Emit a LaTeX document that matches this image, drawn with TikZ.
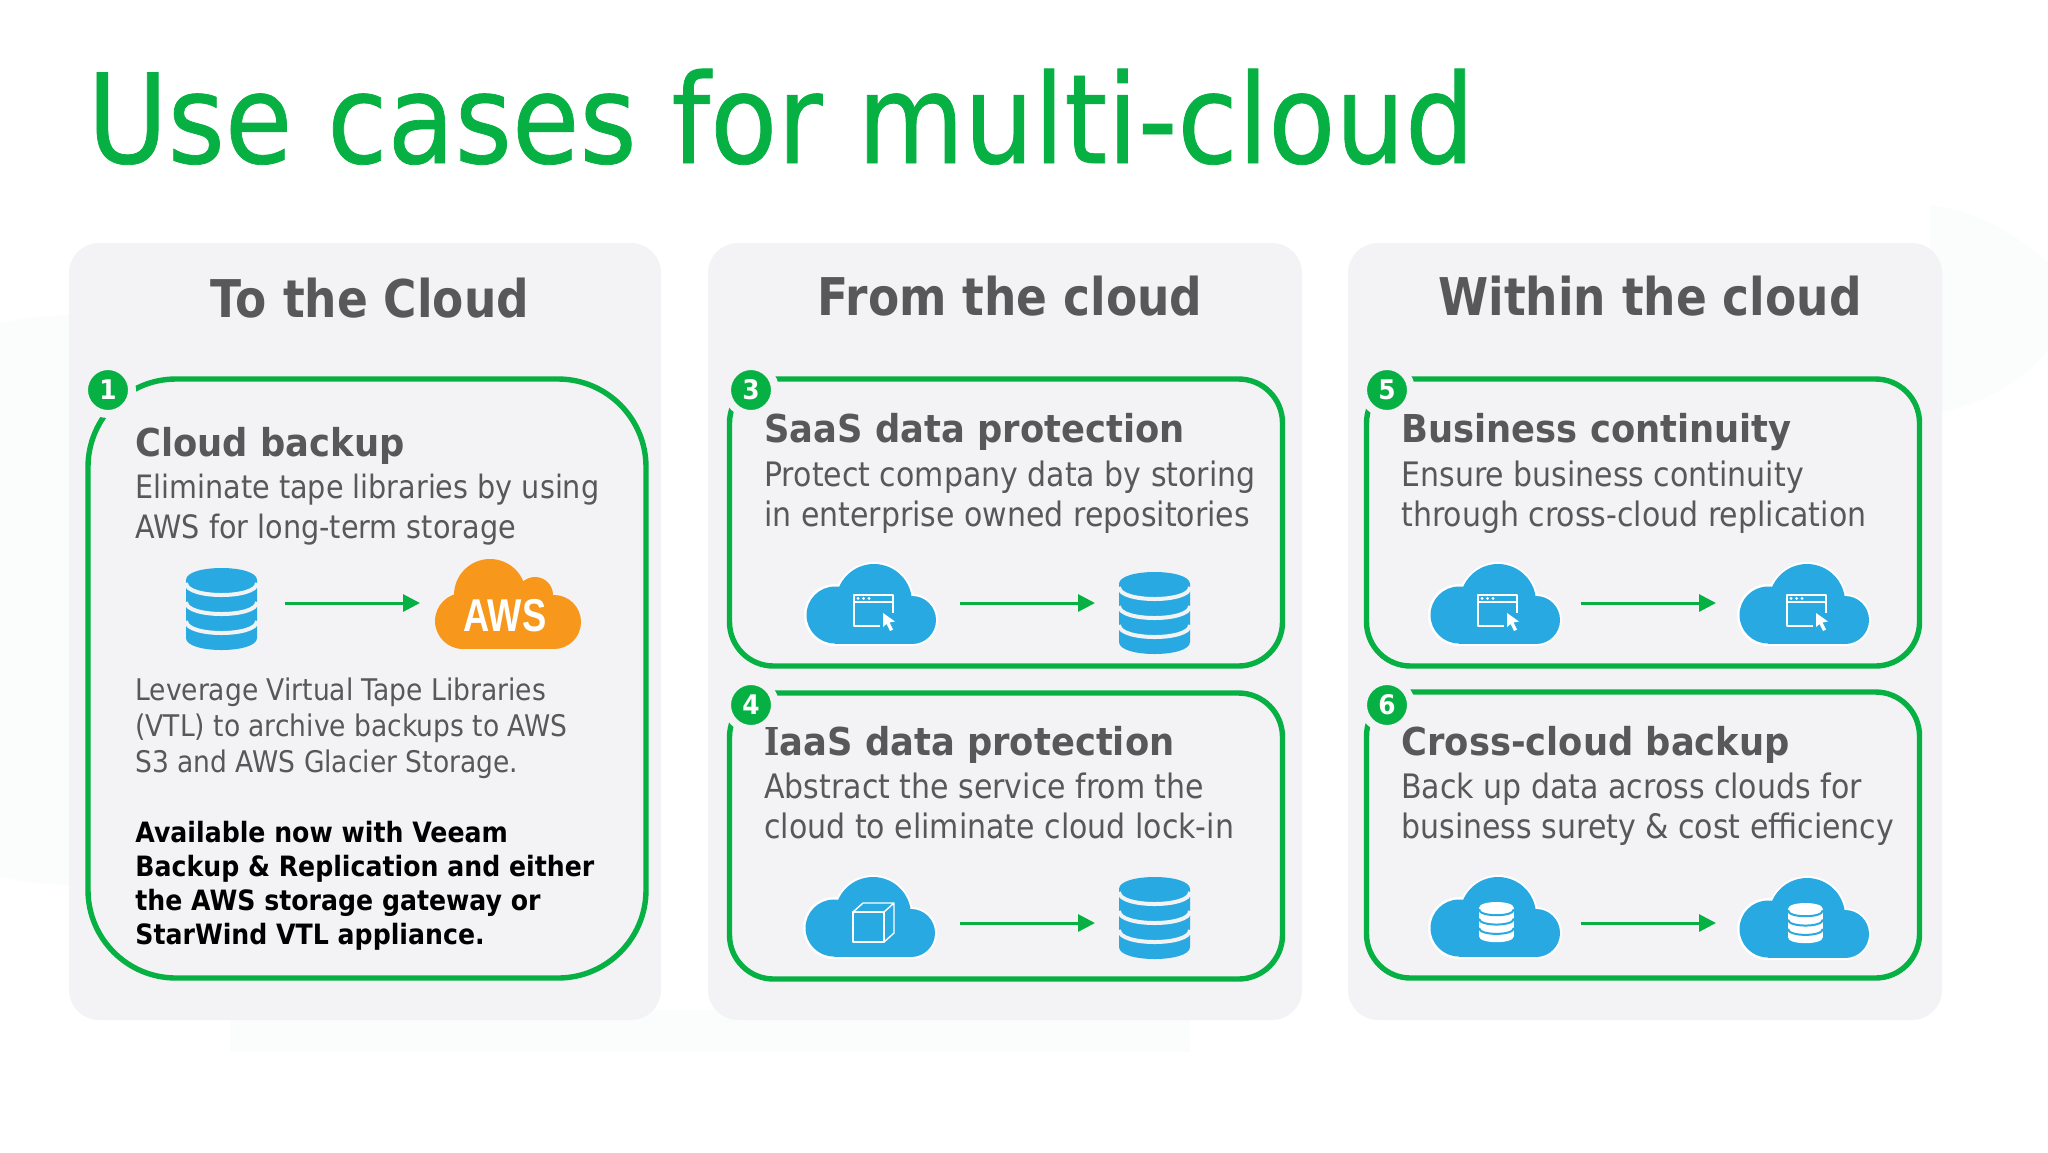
\documentclass[tikz,border=0pt]{standalone}
\usepackage{fontspec}
\usetikzlibrary{arrows.meta}
\setmainfont{DejaVu Sans}
\newfontfamily\regf{DejaVu Sans}[FakeStretch=0.89]
\newfontfamily\titlef{DejaVu Sans}[FakeStretch=0.885,FakeBold=0.6]
\newfontfamily\boldf{DejaVu Sans}[FakeStretch=0.92]
\newfontfamily\headf{DejaVu Sans}[FakeStretch=0.875]
\newfontfamily\notef{DejaVu Sans}[FakeStretch=0.9]
\newfontfamily\serifi{DejaVu Serif}[FakeStretch=0.85]
\newfontfamily\awsf{Liberation Sans}[FakeStretch=0.79]
\definecolor{vgreen}{HTML}{07B043}
\definecolor{vgrey}{HTML}{58585B}
\definecolor{vpanel}{HTML}{F3F3F5}
\definecolor{vblue}{HTML}{29A9E1}
\definecolor{vorange}{HTML}{F7981D}
\definecolor{vfaint}{HTML}{FBFDFC}
\tikzset{
  panel/.style={fill=vpanel,rounded corners=15pt,minimum width=296pt,minimum height=388.5pt,inner sep=0pt,outer sep=0pt},
  casebox/.style={draw=vgreen,line width=2.7pt,rounded corners=22pt,inner sep=0pt,outer sep=0pt},
  badge/.style={circle,fill=vgreen,draw=vpanel,line width=4pt,minimum size=24pt,inner sep=0pt,text=white,font=\boldf\bfseries\fontsize{13.5}{13.5}\selectfont},
  paneltitle/.style={anchor=base,inner sep=0pt,text=vgrey,font=\headf\bfseries\fontsize{26}{30}\selectfont},
  casetitle/.style={anchor=base west,inner sep=0pt,text=vgrey,font=\boldf\bfseries\fontsize{19.2}{22}\selectfont},
  casetext/.style={anchor=base west,inner sep=0pt,align=left,text=vgrey,font=\regf\fontsize{16.85}{20}\selectfont},
  firsttext/.style={anchor=base west,inner sep=0pt,align=left,text=vgrey,font=\regf\fontsize{16.1}{19.8}\selectfont},
  smalltext/.style={anchor=base west,inner sep=0pt,align=left,text=vgrey,font=\regf\fontsize{14.9}{17.8}\selectfont},
  boldnote/.style={anchor=base west,inner sep=0pt,align=left,text=black,font=\notef\bfseries\fontsize{14}{17}\selectfont},
  flow/.style={draw=vgreen,line width=1.5pt,-{Triangle[length=8.5pt,width=8.5pt]}},
  glyph/.style={draw=white,line width=1.3pt,fill=none}
}
\newcommand\cloudicon[2]{%
 \begin{scope}[shift={(#1,#2)}]
  \fill[white] (29,51) circle (31) (106,56) circle (26) (68,38) circle (40);
  \fill[white] (29,40) rectangle (106,82);
  \fill[vblue] (29,51) circle (28.5) (106,56) circle (24) (68,38) circle (38);
  \fill[vblue] (29,40) rectangle (106,79.5);
 \end{scope}}
\newcommand\windowglyph[2]{%
 \begin{scope}[shift={(#1,#2)}]
  \draw[glyph,line join=round] (74,62)--(48,62)--(48,31)--(87,31)--(87,49);
  \draw[glyph,line width=1pt] (48,38)--(87,38);
  \fill[white] (52,34.4) circle (1.6) (57.5,34.4) circle (1.6) (63,34.4) circle (1.6);
  \fill[white] (77,49)--(77,63)--(80.5,60)--(84,67)--(87,65.5)--(83.5,58.5)--(89,57.5)--cycle;
 \end{scope}}
\newcommand\cubeglyph[2]{%
 \begin{scope}[shift={(#1,#2)}]
  \draw[glyph,line width=.7pt,line join=round] (48,35) rectangle (79,65);
  \draw[glyph,line width=.7pt,line join=round] (48,35)--(58,26)--(89,26)--(79,35) (89,26)--(89,56)--(79,65);
 \end{scope}}
% database: local box 71x82
\newcommand\dbglyph[6]{% x,y,scale,fill,stripe,stripe width
 \begin{scope}[shift={(#1,#2)},scale=#3]
  \fill[#4] (0,12)--(0,70) .. controls (0,86) and (71,86) .. (71,70) --(71,12) .. controls (71,-4) and (0,-4) .. (0,12) --cycle;
  \draw[#5,line width=#6] (0,15) .. controls (0,31) and (71,31) .. (71,15);
  \draw[#5,line width=#6] (0,34) .. controls (0,50) and (71,50) .. (71,34);
  \draw[#5,line width=#6] (0,53) .. controls (0,69) and (71,69) .. (71,53);
 \end{scope}}
\begin{document}
\begin{tikzpicture}[x=0.5pt,y=-0.5pt]
\useasboundingbox (0,0) rectangle (2048,1152);
\fill[white] (0,0) rectangle (2048,1152);
% faint background texture
\fill[vfaint] (70,600) circle (285);
\fill[vfaint] (230,1010) rectangle (1190,1052);
\fill[vfaint] (1930,205) .. controls (2000,215) and (2030,250) .. (2048,262) -- (2048,350) .. controls (2020,385) and (1980,405) .. (1930,415) -- cycle;
\node[anchor=base west,inner sep=0pt,text=vgreen,font=\titlef\fontsize{62}{70}\selectfont] (title) at (87,163) {Use cases for multi-cloud};
% panels
\node[panel] (p1) at (365,631.5) {};
\node[panel,minimum width=297pt] (p2) at (1005,631.5) {};
\node[panel,minimum width=297pt] (p3) at (1645,631.5) {};
\node[paneltitle] (t1) at (370,317) {To the Cloud};
\node[paneltitle] (t2) at (1010,315) {From the cloud};
\node[paneltitle] (t3) at (1650,315) {Within the cloud};
% case boxes
\node[casebox,rounded corners=44pt,minimum width=279pt,minimum height=299.5pt] (b1) at (367,678.5) {};
\node[casebox,minimum width=276.5pt,minimum height=143.5pt] (b3) at (1006,522.5) {};
\node[casebox,minimum width=276.5pt,minimum height=143pt] (b4) at (1006,836) {};
\node[casebox,minimum width=276.5pt,minimum height=143.5pt] (b5) at (1643,522.5) {};
\node[casebox,minimum width=276.5pt,minimum height=143pt] (b6) at (1643,835) {};
\node[badge] (n1) at (108,390) {1};
\node[badge] (n3) at (751,390) {3};
\node[badge] (n4) at (751,705) {4};
\node[badge] (n5) at (1387,390) {5};
\node[badge] (n6) at (1387,705) {6};
% texts
\node[casetitle] (c1) at (135,456) {Cloud backup};
\node[firsttext] (d1) at (135,538) {Eliminate tape libraries by using\\AWS for long-term storage};
\node[smalltext] (e1) at (135,772) {Leverage Virtual Tape Libraries\\(VTL) to archive backups to AWS\\S3 and AWS Glacier Storage.};
\node[boldnote] (f1) at (135,944) {Available now with Veeam\\Backup \& Replication and either\\the AWS storage gateway or\\StarWind VTL appliance.};
\node[casetitle] (c3) at (764,442.5) {SaaS data protection};
\node[casetext] (d3) at (764,526) {Protect company data by storing\\in enterprise owned repositories};
\node[casetitle] (c4) at (764,755.5) {{\serifi I}aaS data protection};
\node[casetext] (d4) at (764,838) {Abstract the service from the\\cloud to eliminate cloud lock-in};
\node[casetitle] (c5) at (1401,442.5) {Business continuity};
\node[casetext] (d5) at (1401,526) {Ensure business continuity\\through cross-cloud replication};
\node[casetitle] (c6) at (1401,755.5) {Cross-cloud backup};
\node[casetext] (d6) at (1401,838) {Back up data across clouds for\\business surety \& cost efficiency};
% icons panel 1
\dbglyph{186}{568}{1}{vblue}{vpanel}{2pt}
\begin{scope}[shift={(435,559)}]
 \fill[vorange] (28,62) circle (28) (119,63) circle (27) (55,36) circle (36) (100,36) circle (18);
 \fill[vorange] (28,36) rectangle (119,90);
 \node[inner sep=0pt,text=white,font=\awsf\bfseries\fontsize{23}{23}\selectfont] (aws) at (70,57) {AWS};
\end{scope}
% icons panel 2
\cloudicon{806}{564}\windowglyph{806}{564}
\dbglyph{1119}{572}{1}{vblue}{vpanel}{2pt}
\cloudicon{805}{877}\cubeglyph{805}{877}
\dbglyph{1119}{877}{1}{vblue}{vpanel}{2pt}
% icons panel 3
\cloudicon{1430}{564}\windowglyph{1430}{564}
\cloudicon{1739}{564}\windowglyph{1739}{564}
\cloudicon{1430}{877}\dbglyph{1479}{902}{.49}{white}{vblue}{1pt}
\cloudicon{1739}{878}\dbglyph{1788}{903}{.49}{white}{vblue}{1pt}
% arrows
\coordinate (a1s) at (285,603); \coordinate (a1e) at (420,603);
\coordinate (a3s) at (960,603); \coordinate (a3e) at (1095,603);
\coordinate (a4s) at (960,923); \coordinate (a4e) at (1095,923);
\coordinate (a5s) at (1581,603); \coordinate (a5e) at (1716,603);
\coordinate (a6s) at (1581,923); \coordinate (a6e) at (1716,923);
\draw[flow] (a1s)--(a1e);
\draw[flow] (a3s)--(a3e);
\draw[flow] (a4s)--(a4e);
\draw[flow] (a5s)--(a5e);
\draw[flow] (a6s)--(a6e);
\end{tikzpicture}
\end{document}
